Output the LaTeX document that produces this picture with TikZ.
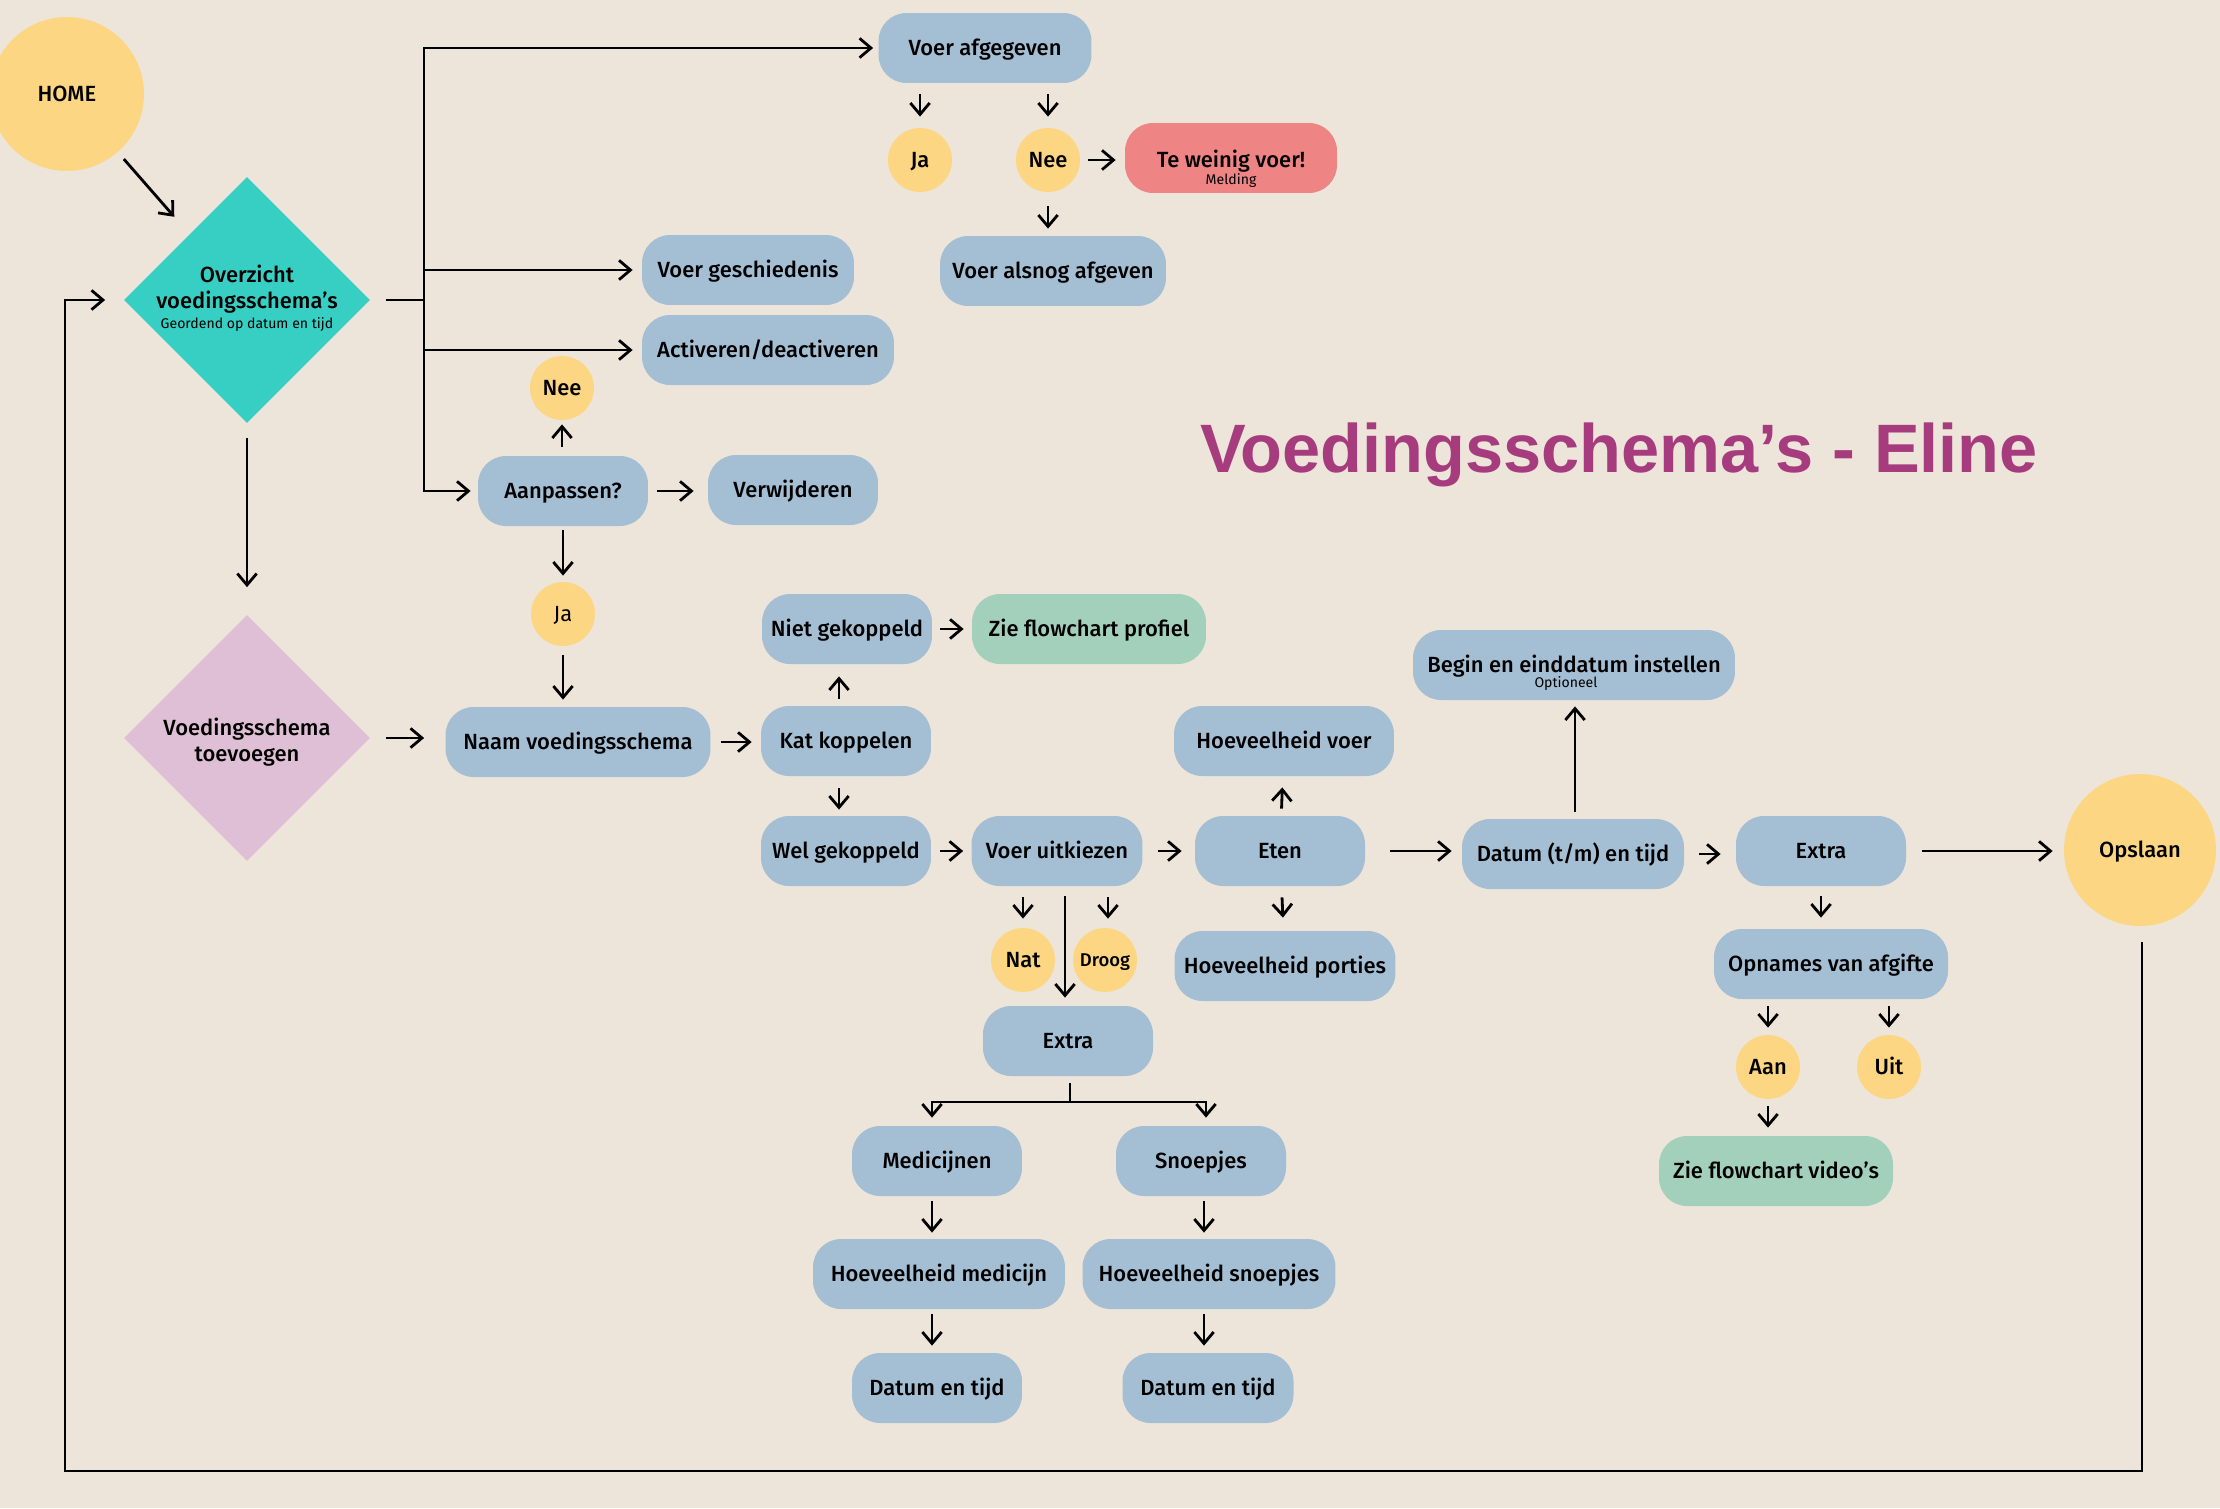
\documentclass[tikz,border=0pt]{standalone}
\usepackage{fontspec}
\setmainfont{Fira Sans}[UprightFont=* Medium, BoldFont=* Bold]
\newfontfamily\subfont{Fira Sans}
\newfontfamily\titlefont{Liberation Sans}
\usetikzlibrary{shapes.geometric, arrows.meta, calc}

\definecolor{bg}{HTML}{EDE5DA}
\definecolor{boxblue}{HTML}{A4BED3}
\definecolor{yel}{HTML}{FDD683}
\definecolor{mint}{HTML}{A3D0BA}
\definecolor{salmon}{HTML}{EE8483}
\definecolor{turq}{HTML}{37CFC4}
\definecolor{lila}{HTML}{DFBFD5}
\definecolor{titlecol}{HTML}{A63C7E}

\begin{document}
\begin{tikzpicture}[x=0.02cm, y=-0.02cm, line width=1.6pt,
  txt/.style={font=\fontsize{12.5}{15}\selectfont, align=center},
  box/.style={txt, rounded corners=0.56cm, fill=boxblue, minimum height=1.4cm, inner sep=0pt, text height=8.6pt, text depth=0pt},
  circ/.style={txt, circle, fill=yel, minimum size=1.28cm, inner sep=0pt, text height=8.6pt, text depth=0pt},
  subtxt/.style={font=\subfont\fontsize{8}{9}\selectfont, inner sep=0pt},
  dia/.style={diamond, minimum width=4.94cm, minimum height=4.94cm, inner sep=0pt},
  arr/.style={-{Straight Barb[length=6.5pt, width=11pt]}},
  gaps/.style 2 args={shorten <=#1, shorten >=#2}]
  \fill[bg] (0,0) rectangle (2220,1508);
  \useasboundingbox (0,0) rectangle (2220,1508);

  % start en overzicht
  \node[circ, minimum size=3.08cm] (home) at (67,94) {HOME};
  \node[dia, fill=turq] (ovz) at (247,300) {};
  \node[txt] (ovztxt) at (247,289) {Overzicht\\voedingsschema’s};
  \node[subtxt] (ovzsub) at (247,325) {Geordend op datum en tijd};
  \node[dia, fill=lila] (toev) at (247,738) {};
  \node[txt] (toevtxt) at (247,742) {Voedingsschema\\toevoegen};

  \node[box, minimum width=4.26cm] (va) at (985,48) {Voer afgegeven};
  \node[circ] (ja1) at (920,160) {Ja};
  \node[circ] (nee1) at (1048,160) {Nee};
  \node[box, fill=salmon, minimum width=4.24cm] (weinig) at (1231,158) {};
  \node[txt, text height=8.6pt, text depth=0pt, inner sep=0pt] (weinigtxt) at (1231,160) {Te weinig voer!};
  \node[subtxt] (weinigsub) at (1231,181) {Melding};
  \node[box, minimum width=4.52cm] (alsnog) at (1053,271) {Voer alsnog afgeven};
  \node[box, minimum width=4.24cm] (gesch) at (748,270) {Voer geschiedenis};
  \node[box, minimum width=5.04cm] (activ) at (768,350) {Activeren/deactiveren};
  \node[circ] (nee2) at (562,388) {Nee};
  \node[box, minimum width=3.4cm] (aanp) at (563,491) {Aanpassen?};
  \node[box, minimum width=3.4cm] (verw) at (793,490) {Verwijderen};
  \node[circ, font=\subfont\fontsize{12.5}{15}\selectfont] (ja2) at (563,614) {Ja};

  % nieuw schema
  \node[box, minimum width=5.3cm] (naam) at (578,742) {Naam voedingsschema};
  \node[box, minimum width=3.4cm] (kat) at (846,741) {Kat koppelen};
  \node[box, minimum width=3.4cm] (niet) at (847,629) {Niet gekoppeld};
  \node[box, fill=mint, minimum width=4.68cm] (profiel) at (1089,629) {Zie flowchart profiel};
  \node[box, minimum width=3.4cm] (wel) at (846,851) {Wel gekoppeld};
  \node[box, minimum width=3.42cm] (kiezen) at (1057,851) {Voer uitkiezen};
  \node[circ] (nat) at (1023,960) {Nat};
  \node[circ, font=\fontsize{10.5}{12}\selectfont, text height=7.2pt] (droog) at (1105,960) {Droog};
  \node[box, minimum width=3.4cm] (extra1) at (1068,1041) {Extra};
  \node[box, minimum width=3.4cm] (med) at (937,1161) {Medicijnen};
  \node[box, minimum width=3.4cm] (snoep) at (1201,1161) {Snoepjes};
  \node[box, minimum width=5.04cm] (hmed) at (939,1274) {Hoeveelheid medicijn};
  \node[box, minimum width=5.06cm] (hsnoep) at (1209,1274) {Hoeveelheid snoepjes};
  \node[box, minimum width=3.4cm] (dt1) at (937,1388) {Datum en tijd};
  \node[box, minimum width=3.42cm] (dt2) at (1208,1388) {Datum en tijd};

  \node[box, minimum width=3.4cm] (eten) at (1280,851) {Eten};
  \node[box, minimum width=4.4cm] (hvoer) at (1284,741) {Hoeveelheid voer};
  \node[box, minimum width=4.42cm] (hport) at (1285,966) {Hoeveelheid porties};
  \node[box, minimum width=4.44cm] (datum) at (1573,854) {Datum (t/m) en tijd};
  \node[box, minimum width=6.44cm] (begin) at (1574,665) {};
  \node[txt, text height=8.6pt, text depth=0pt, inner sep=0pt] (begintxt) at (1574,665) {Begin en einddatum instellen};
  \node[subtxt] (beginsub) at (1566,684) {Optioneel};
  \node[box, minimum width=3.4cm] (extra2) at (1821,851) {Extra};
  \node[circ, minimum size=3.04cm] (opslaan) at (2140,850) {Opslaan};
  \node[box, minimum width=4.68cm] (opnames) at (1831,964) {Opnames van afgifte};
  \node[circ] (aan) at (1768,1067) {Aan};
  \node[circ] (uit) at (1889,1067) {Uit};
  \node[box, fill=mint, minimum width=4.68cm] (video) at (1776,1171) {Zie flowchart video’s};

  \node[anchor=base, text=titlecol, font=\titlefont\bfseries\fontsize{39}{40}\selectfont] (title) at (1619,472) {Voedingsschema’s - Eline};

  % verbindingen
  \draw[arr, gaps={0.16cm}{0.44cm}] (home) -- (ovz);
  \coordinate (bus) at (424,300);
  \draw ([xshift=0.28cm]ovz.east) -- (bus);
  \draw[arr, gaps={0cm}{0.08cm}] (bus) |- (va.west);
  \draw[arr, gaps={0cm}{0.16cm}] (bus) |- (gesch.west);
  \draw[arr, gaps={0cm}{0.16cm}] (bus) |- (activ.west);
  \draw[arr, gaps={0cm}{0.12cm}] (bus) |- (aanp.west);
  \draw[arr, gaps={0.26cm}{0.52cm}] (ovz.south) -- (toev.north);

  \draw[arr, gaps={0.2cm}{0.2cm}] (va.south -| ja1) -- (ja1);
  \draw[arr, gaps={0.2cm}{0.2cm}] (va.south -| nee1) -- (nee1);
  \draw[arr, gaps={0.14cm}{0.16cm}] (nee1) -- (nee1 -| weinig.west);
  \draw[arr, gaps={0.26cm}{0.12cm}] (nee1) -- (nee1 |- alsnog.north);
  \draw[arr, gaps={0.16cm}{0.06cm}] (aanp.north -| nee2) -- (nee2);
  \draw[arr, gaps={0.16cm}{0.26cm}] (aanp.east) -- (aanp.east -| verw.west);
  \draw[arr, gaps={0.06cm}{0.1cm}] (aanp) -- (ja2);
  \draw[arr, gaps={0.16cm}{0.12cm}] (ja2) -- (ja2 |- naam.north);

  \draw[arr, gaps={0.28cm}{0.4cm}] (toev.east) -- (toev.east -| naam.west);
  \draw[arr, gaps={0.18cm}{0.16cm}] (naam.east) -- (naam.east -| kat.west);
  \draw[arr, gaps={0.12cm}{0.22cm}] (kat.north -| 839,0) -- (niet.south -| 839,0);
  \draw[arr, gaps={0.14cm}{0.14cm}] (niet.east) -- (niet.east -| profiel.west);
  \draw[arr, gaps={0.22cm}{0.1cm}] (kat.south -| 839,0) -- (wel.north -| 839,0);
  \draw[arr, gaps={0.16cm}{0.14cm}] (wel.east) -- (wel.east -| kiezen.west);
  \draw[arr, gaps={0.28cm}{0.24cm}] (kiezen.east) -- (kiezen.east -| eten.west);
  \draw[arr, gaps={0.2cm}{0.16cm}] (kiezen.south -| nat) -- (nat);
  \draw[arr, gaps={0.2cm}{0.16cm}] (kiezen.south -| 1108,0) -- (droog.north -| 1108,0);
  \draw[arr, gaps={0.18cm}{0.14cm}] (kiezen.south -| 1065,0) -- (extra1.north -| 1065,0);

  % extra: medicijnen en snoepjes
  \coordinate (split) at (1070,1102);
  \draw[gaps={0.12cm}{0cm}] (extra1.south -| split) -- (split);
  \draw[arr, gaps={0cm}{0.14cm}] (split) -| (med.north -| 932,0);
  \draw[arr, gaps={0cm}{0.14cm}] (split) -| (snoep.north -| 1206,0);
  \draw[arr, gaps={0.08cm}{0.1cm}] (med.south -| 932,0) -- (hmed.north -| 932,0);
  \draw[arr, gaps={0.08cm}{0.12cm}] (hmed.south -| 932,0) -- (dt1.north -| 932,0);
  \draw[arr, gaps={0.08cm}{0.1cm}] (snoep.south -| 1204,0) -- (hsnoep.north -| 1204,0);
  \draw[arr, gaps={0.08cm}{0.12cm}] (hsnoep.south -| 1204,0) -- (dt2.north -| 1204,0);

  \draw[arr, gaps={0.2cm}{0.24cm}] (eten) -- (hport);
  \draw[arr, gaps={0.12cm}{0.2cm}] (eten) -- (hvoer);
  \draw[arr, gaps={0.48cm}{0.18cm}] (eten.east) -- (eten.east -| datum.west);
  \draw[arr, gaps={0.12cm}{0.1cm}] (datum.north -| 1575,0) -- (begin.south -| 1575,0);
  \draw[arr, gaps={0.28cm}{0.28cm}] (datum.east) -- (datum.east -| extra2.west);
  \draw[arr, gaps={0.3cm}{0.2cm}] (extra2.east) -- (extra2.east -| opslaan.west);
  \draw[arr, gaps={0.18cm}{0.2cm}] (extra2) -- (extra2 |- opnames.north);
  \draw[arr, gaps={0.12cm}{0.12cm}] (opnames.south -| aan) -- (aan);
  \draw[arr, gaps={0.12cm}{0.12cm}] (opnames.south -| uit) -- (uit);
  \draw[arr, gaps={0.12cm}{0.14cm}] (aan) -- (aan |- video.north);

  % terug naar overzicht
  \coordinate (retR) at (2142,1471);
  \coordinate (retL) at (65,1471);
  \draw[arr, gaps={0.3cm}{0.34cm}] (opslaan.south -| retR) -- (retR) -- (retL) |- (ovz.west);
\end{tikzpicture}
\end{document}
